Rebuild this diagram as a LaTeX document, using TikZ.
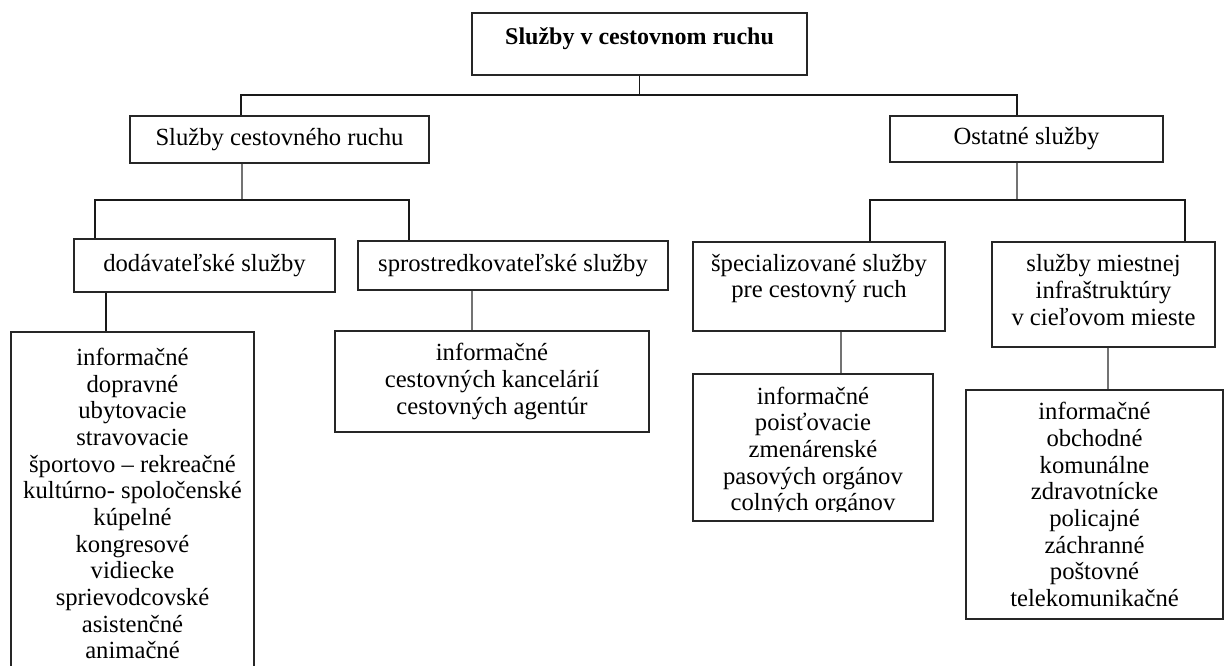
\documentclass[tikz,border=0pt]{standalone}
\usepackage{fontspec}
\setmainfont{Liberation Serif}
\tikzset{box/.style = {draw=black!85, line width=0.9pt, align=center, inner sep=2pt,
                       font=\fontsize{18.5}{20}\selectfont},
         link/.style = {draw=black!90, line width=0.9pt},
         greylink/.style = {draw=black!55, line width=1pt}}
\begin{document}
\begin{tikzpicture}[x=0.75pt,y=-0.75pt]
			\clip (0,0) rectangle (1224,665);
			\fill[white] (0,0) rectangle (1224,665);
			% boxes
			\node[box, minimum width=251.25pt, minimum height=46.5pt, text depth=12pt,
			      font=\fontsize{18}{20}\selectfont\bfseries] (top) at (639.5,44) {Služby v cestovnom ruchu};
			\node[box, minimum width=224.25pt, minimum height=35.25pt] (cr) at (279.5,139.5) {Služby cestovného ruchu};
			\node[box, minimum width=204.75pt, minimum height=34.5pt] (os) at (1026.5,139) {Ostatné služby};
			\node[box, minimum width=195.75pt, minimum height=39.75pt] (dod) at (204.5,265.5) {dodávateľské služby};
			\node[box, minimum width=232.5pt, minimum height=36.75pt] (spr) at (513,265.5) {sprostredkovateľské služby};
			\node[box, minimum width=189pt, minimum height=66.75pt, text depth=16pt] (spec) at (819,286.5) {špecializované služby\\pre cestovný ruch};
			\node[box, minimum width=167.25pt, minimum height=78.75pt, text depth=7pt] (miest) at (1103.5,294.5) {služby miestnej\\infraštruktúry\\v cieľovom mieste};
			\node[box, minimum width=182.25pt, minimum height=257.25pt] (lst1) at (132.5,503.5) {informačné\\dopravné\\ubytovacie\\stravovacie\\športovo – rekreačné\\kultúrno- spoločenské\\kúpelné\\kongresové\\vidiecke\\sprievodcovské\\asistenčné\\animačné};
			\node[box, minimum width=235.5pt, minimum height=75.75pt] (lst2) at (492,381.5) {informačné\\cestovných kancelárií\\cestovných agentúr};
			\node[box, minimum width=180pt, minimum height=110.25pt, text height=99pt] (lst3) at (813,447.5) {informačné\\poisťovacie\\zmenárenské\\pasových orgánov\\colných orgánov};
			% text of the last line is cut off at the box bottom
			\fill[white] ([xshift=1.5pt,yshift=1.5pt]lst3.south west) rectangle ([xshift=-1.5pt,yshift=7pt]lst3.south east);
			\node[box, minimum width=192.75pt, minimum height=171.75pt] (lst4) at (1094.5,504.5) {informačné\\obchodné\\komunálne\\zdravotnícke\\policajné\\záchranné\\poštovné\\telekomunikačné};
			% branch points
			\coordinate (k1) at (241,95);
			\coordinate (k2) at (1017,95);
			\coordinate (k3) at (242,200);
			\coordinate (k4) at (95,200);
			\coordinate (k5) at (409,200);
			\coordinate (k6) at (1017,200);
			\coordinate (k7) at (870,200);
			\coordinate (k8) at (1185,200);
			\coordinate (k9) at (106,310);
			\coordinate (k10) at (472,310);
			\coordinate (k11) at (841,352);
			\coordinate (k12) at (1108,368);
			% connectors
			\draw[link] (top.south) |- (k1) -- (k1 |- cr.north);
			\draw[link] (top.south) |- (k2) -- (k2 |- os.north);
			\draw[greylink] (k3 |- cr.south) -- (k3);
			\draw[link] (k4 |- dod.north) |- (k5) -- (k5 |- spr.north);
			\draw[greylink] (k6 |- os.south) -- (k6);
			\draw[link] (k7 |- spec.north) |- (k8) -- (k8 |- miest.north);
			\draw[link] (k9 |- dod.south) -- (k9 |- lst1.north);
			\draw[greylink] (k10 |- spr.south) -- (k10 |- lst2.north);
			\draw[greylink] (k11 |- spec.south) -- (k11 |- lst3.north);
			\draw[greylink] (k12 |- miest.south) -- (k12 |- lst4.north);
		\end{tikzpicture}
\end{document}
